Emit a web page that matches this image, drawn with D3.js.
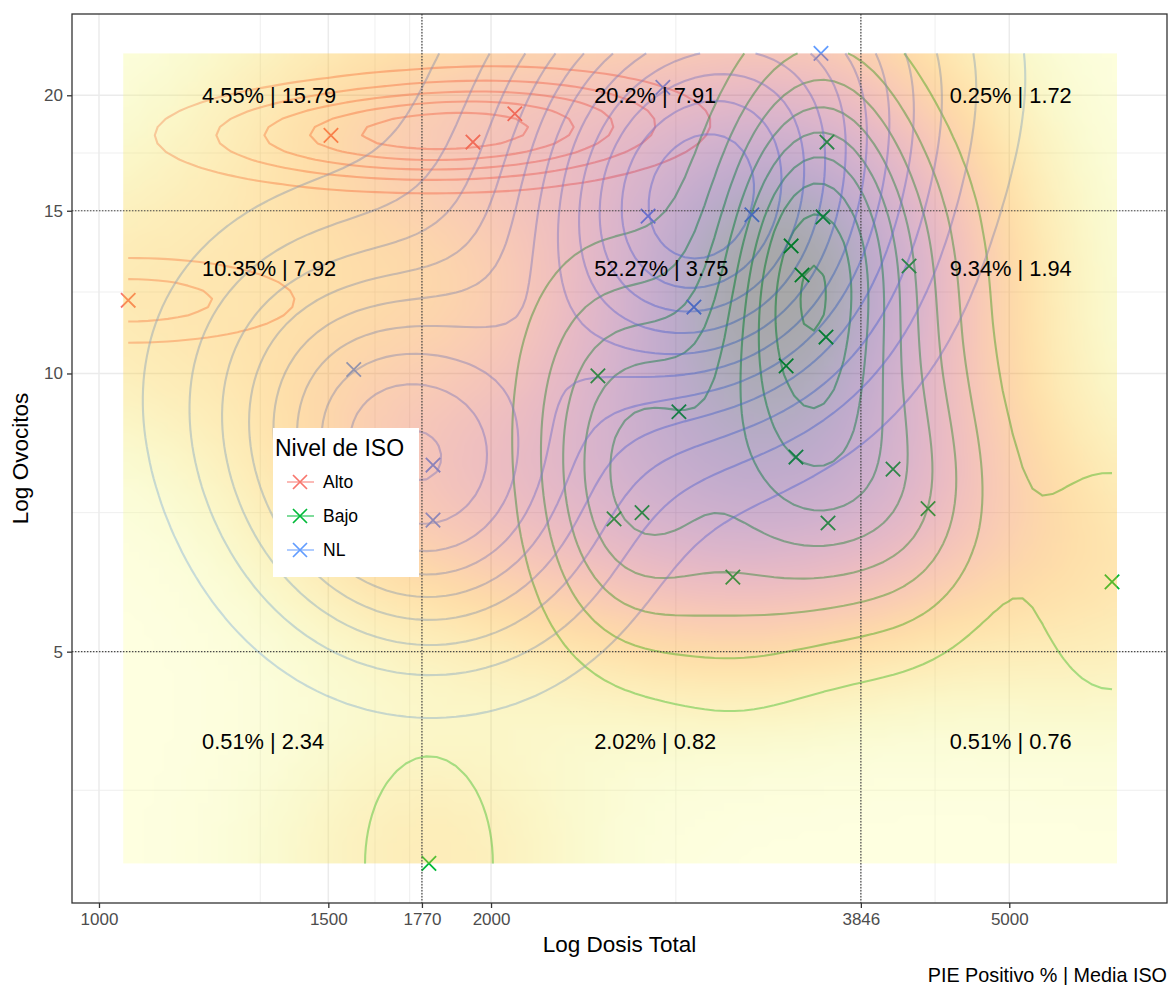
<!DOCTYPE html>
<html><head><meta charset="utf-8">
<script src="https://cdn.jsdelivr.net/npm/d3@7"></script>
<style>
body{margin:0;background:#fff;}
svg text{font-family:"Liberation Sans",Arial,Helvetica,sans-serif;}
</style></head><body>
<svg id="chart" width="1170" height="985"></svg>
<script>
// ---------------- data ----------------
const groups = ["Alto", "Bajo", "NL"];
const groupColors = ["#F8766D", "#00BA38", "#619CFF"];

const altoDosis = [1053, 1507, 1937, 2086];
const altoOvocitos = [12.0, 18.1, 17.8, 19.1];

const bajoDosis = [1792, 2416, 2788, 2486, 2612, 3067, 3370, 3400, 3466, 3597, 3622, 3616, 3429, 3629, 4071, 4188, 4331, 5996];
const bajoOvocitos = [2.95, 9.94, 9.09, 6.96, 7.07, 6.02, 10.19, 13.74, 12.78, 14.77, 17.80, 10.95, 8.12, 6.89, 7.88, 13.07, 7.14, 5.95];

const nlDosis = [3584, 2710, 2640, 3172, 2863, 1569, 1805, 1805];
const nlOvocitos = [22.2, 20.4, 14.8, 14.85, 11.8, 10.1, 7.96, 6.94];

const xBreaks = [1000, 1500, 1770, 2000, 3846, 5000];
const xMinorBreaks = [1330, 1629, 1732, 2773, 4385];
const yBreaks = [5, 10, 15, 20];
const yMinorBreaks = [3.54, 7.07, 12.25, 17.32];
const xLimits = [953.4, 6608];
const yLimits = [2.673, 24.49];

const vLines = [1770, 3846];
const hLines = [5, 15];

const quadX = [1200, 2400, 4500, 1200, 2400, 4500, 1200, 2400, 4500];
const quadY = [20, 20, 20, 13, 13, 13, 4, 4, 4];
const quadPie = [4.55, 20.2, 0.25, 10.35, 52.27, 9.34, 0.51, 2.02, 0.51];
const quadIso = [15.79, 7.91, 1.72, 7.92, 3.75, 1.94, 2.34, 0.82, 0.76];

const groupDosis = [altoDosis, bajoDosis, nlDosis];
const groupOvocitos = [altoOvocitos, bajoOvocitos, nlOvocitos];

// ---------------- layout ----------------
const P = {l: 72, t: 14, r: 1167, b: 903};
const svg = d3.select("#chart");
const x = d3.scaleLog().domain(xLimits).range([P.l, P.r]);
const y = d3.scaleLog().domain(yLimits).range([P.b, P.t]);

svg.append("defs").append("clipPath").attr("id", "clip")
  .append("rect").attr("x", P.l).attr("y", P.t).attr("width", P.r - P.l).attr("height", P.b - P.t);
const panel = svg.append("g").attr("clip-path", "url(#clip)");

// grid
panel.append("g").selectAll("line").data(xMinorBreaks).join("line")
  .attr("x1", d => x(d)).attr("x2", d => x(d)).attr("y1", P.t).attr("y2", P.b)
  .attr("stroke", "#EBEBEB").attr("stroke-width", 0.8);
panel.append("g").selectAll("line").data(yMinorBreaks).join("line")
  .attr("y1", d => y(d)).attr("y2", d => y(d)).attr("x1", P.l).attr("x2", P.r)
  .attr("stroke", "#EBEBEB").attr("stroke-width", 0.8);
panel.append("g").selectAll("line").data(xBreaks).join("line")
  .attr("x1", d => x(d)).attr("x2", d => x(d)).attr("y1", P.t).attr("y2", P.b)
  .attr("stroke", "#EBEBEB").attr("stroke-width", 1.5);
panel.append("g").selectAll("line").data(yBreaks).join("line")
  .attr("y1", d => y(d)).attr("y2", d => y(d)).attr("x1", P.l).attr("x2", P.r)
  .attr("stroke", "#EBEBEB").attr("stroke-width", 1.5);

// ---------------- density helpers ----------------
const L = Math.log10;
function bwNrd(v) {
  const s = v.slice().sort(d3.ascending);
  const iqr = (d3.quantileSorted(s, 0.75) - d3.quantileSorted(s, 0.25)) / 1.34;
  return 4 * 1.06 * Math.min(d3.deviation(v), iqr) * Math.pow(v.length, -0.2);
}
const dn = t => Math.exp(-0.5 * t * t) / Math.sqrt(2 * Math.PI);
function kde2d(xs, ys, gx, gy) {
  const hx = bwNrd(xs) / 4, hy = bwNrd(ys) / 4, n = xs.length;
  const ax = gx.map(g => xs.map(v => dn((g - v) / hx)));
  const ay = gy.map(g => ys.map(v => dn((g - v) / hy)));
  const z = new Float64Array(gx.length * gy.length);
  for (let j = 0; j < gy.length; j++)
    for (let i = 0; i < gx.length; i++) {
      let s = 0;
      for (let k = 0; k < n; k++) s += ax[i][k] * ay[j][k];
      z[j * gx.length + i] = s / (n * hx * hy);
    }
  return z;
}
function rPretty(lo, up, ndiv) {
  const h = 1.5, h5 = 0.5 + 1.5 * h;
  const cell = (up - lo) / ndiv;
  const base = Math.pow(10, Math.floor(Math.log10(cell)));
  let unit = base, ns;
  if ((ns = 2 * base) - cell < h * (cell - unit)) { unit = ns;
    if ((ns = 5 * base) - cell < h5 * (cell - unit)) { unit = ns;
      if ((ns = 10 * base) - cell < h * (cell - unit)) unit = ns; } }
  let a = Math.floor(lo / unit + 1e-7), b = Math.ceil(up / unit - 1e-7);
  while (a * unit > lo + 1e-10 * unit) a--;
  while (b * unit < up - 1e-10 * unit) b++;
  return d3.range(a, b + 1).map(k => k * unit);
}

const allLX = groupDosis.flat().map(L), allLY = groupOvocitos.flat().map(L);
const N = 100;
const [gxlo, gxhi] = d3.extent(allLX), [gylo, gyhi] = d3.extent(allLY);
const sx = (gxhi - gxlo) / (N - 1), sy = (gyhi - gylo) / (N - 1);
const gx = d3.range(N).map(i => gxlo + i * sx);
const gy = d3.range(N).map(j => gylo + j * sy);
const px = c => x(Math.pow(10, gxlo + (c - 0.5) * sx));
const py = c => y(Math.pow(10, gylo + (c - 0.5) * sy));

// ---------------- contour lines (per group) ----------------
const lineGen = d3.line().x(p => px(p[0])).y(p => py(p[1]));
const onB = p => p[0] <= 0 || p[0] >= N || p[1] <= 0 || p[1] >= N;
function openLines(ring) {
  const pts = ring.slice(0, -1);
  const k = pts.findIndex(onB);
  if (k < 0) return [{pts: ring, closed: true}];
  const rot = pts.slice(k).concat(pts.slice(0, k));
  const out = []; let cur = [];
  rot.forEach(p => {
    if (onB(p)) { if (cur.length > 1) out.push({pts: cur, closed: false}); cur = []; }
    else cur.push(p);
  });
  if (cur.length > 1) out.push({pts: cur, closed: false});
  return out;
}
const contourLayer = panel.append("g");
groups.forEach((g, gi) => {
  const z = kde2d(groupDosis[gi].map(L), groupOvocitos[gi].map(L), gx, gy);
  const [zmin, zmax] = d3.extent(z);
  const levels = rPretty(zmin, zmax, 10).filter(v => v > zmin && v < zmax);
  const polys = d3.contours().size([N, N]).thresholds(levels)(Array.from(z));
  const segs = [];
  polys.forEach(mp => mp.coordinates.forEach(poly => poly.forEach(ring => segs.push(...openLines(ring)))));
  contourLayer.append("g").selectAll("path").data(segs).join("path")
    .attr("d", s => lineGen(s.pts) + (s.closed ? "Z" : ""))
    .attr("fill", "none").attr("stroke", groupColors[gi])
    .attr("stroke-opacity", 0.5).attr("stroke-width", 2.1).attr("stroke-linejoin", "round");
});

// ---------------- points ----------------
const xShape = s => `M${-s},${-s}L${s},${s}M${-s},${s}L${s},${-s}`;
const pts = groups.flatMap((g, gi) => groupDosis[gi].map((d, k) => ({g: gi, d, o: groupOvocitos[gi][k]})));
panel.append("g").selectAll("path").data(pts).join("path")
  .attr("transform", p => `translate(${x(p.d)},${y(p.o)})`)
  .attr("d", xShape(7.2)).attr("fill", "none")
  .attr("stroke", p => groupColors[p.g]).attr("stroke-width", 1.8);

// ---------------- raster (all points) ----------------
const zAll = kde2d(allLX, allLY, gx, gy);
const [zaMin, zaMax] = d3.extent(zAll);
const fill = d3.scaleSequential(t => d3.interpolateInferno(1 - t)).domain([zaMin, zaMax]);
const cnv = document.createElement("canvas");
cnv.width = N; cnv.height = N;
const ctx = cnv.getContext("2d");
const im = ctx.createImageData(N, N);
for (let row = 0; row < N; row++) {
  const j = N - 1 - row;
  for (let i = 0; i < N; i++) {
    const c = d3.rgb(fill(zAll[j * N + i]));
    const o = (row * N + i) * 4;
    im.data[o] = c.r; im.data[o + 1] = c.g; im.data[o + 2] = c.b; im.data[o + 3] = 255;
  }
}
ctx.putImageData(im, 0, 0);
const rx0 = x(Math.pow(10, gxlo - sx / 2)), rx1 = x(Math.pow(10, gxhi + sx / 2));
const ry0 = y(Math.pow(10, gyhi)), ry1 = y(Math.pow(10, gylo));
panel.append("image").attr("href", cnv.toDataURL())
  .attr("x", rx0).attr("y", ry0).attr("width", rx1 - rx0).attr("height", ry1 - ry0)
  .attr("preserveAspectRatio", "none").attr("opacity", 0.34);

// ---------------- reference lines ----------------
panel.append("g").selectAll("line").data(vLines).join("line")
  .attr("x1", d => x(d)).attr("x2", d => x(d)).attr("y1", P.t).attr("y2", P.b)
  .attr("stroke", "#4a4a4a").attr("stroke-width", 1.2).attr("stroke-dasharray", "1.4,1.6");
panel.append("g").selectAll("line").data(hLines).join("line")
  .attr("y1", d => y(d)).attr("y2", d => y(d)).attr("x1", P.l).attr("x2", P.r)
  .attr("stroke", "#4a4a4a").attr("stroke-width", 1.2).attr("stroke-dasharray", "1.4,1.6");

// ---------------- quadrant labels ----------------
panel.append("g").selectAll("text").data(quadPie).join("text")
  .attr("x", (d, i) => x(quadX[i])).attr("y", (d, i) => y(quadY[i]))
  .attr("dy", "0.36em").attr("font-size", 21.8).attr("fill", "#000")
  .text((d, i) => `${d}% | ${quadIso[i]}`);

// ---------------- border & axes ----------------
svg.append("rect").attr("x", P.l).attr("y", P.t).attr("width", P.r - P.l).attr("height", P.b - P.t)
  .attr("fill", "none").attr("stroke", "#333333").attr("stroke-width", 1.3);

const xAxis = svg.append("g").attr("transform", `translate(0,${P.b})`)
  .call(d3.axisBottom(x).tickValues(xBreaks).tickFormat(d3.format("d")).tickSize(5).tickPadding(5));
const yAxis = svg.append("g").attr("transform", `translate(${P.l},0)`)
  .call(d3.axisLeft(y).tickValues(yBreaks).tickFormat(d3.format("d")).tickSize(5).tickPadding(4));
[xAxis, yAxis].forEach(a => {
  a.select(".domain").remove();
  a.selectAll(".tick line").attr("stroke", "#333333").attr("stroke-width", 1.3);
  a.selectAll(".tick text").attr("fill", "#4D4D4D").attr("font-size", 17)
    .attr("font-family", "Liberation Sans, Arial, sans-serif");
});

svg.append("text").attr("x", (P.l + P.r) / 2).attr("y", 952).attr("text-anchor", "middle")
  .attr("font-size", 22.5).attr("fill", "#000").text("Log Dosis Total");
svg.append("text").attr("transform", `translate(28,${(P.t + P.b) / 2}) rotate(-90)`)
  .attr("text-anchor", "middle").attr("font-size", 22.5).attr("fill", "#000").text("Log Ovocitos");
svg.append("text").attr("x", P.r).attr("y", 982).attr("text-anchor", "end")
  .attr("font-size", 19.8).attr("fill", "#000").text("PIE Positivo % | Media ISO");

// ---------------- legend ----------------
const lg = svg.append("g");
lg.append("rect").attr("x", 273).attr("y", 428).attr("width", 146).attr("height", 149).attr("fill", "#fff");
lg.append("text").attr("x", 275).attr("y", 456).attr("font-size", 23).attr("fill", "#000").text("Nivel de ISO");
const keys = lg.selectAll("g.key").data(groups).join("g")
  .attr("transform", (d, i) => `translate(300,${482 + i * 34})`);
keys.append("line").attr("x1", -13).attr("x2", 14).attr("stroke", (d, i) => groupColors[i])
  .attr("stroke-opacity", 0.5).attr("stroke-width", 2);
keys.append("path").attr("d", xShape(7)).attr("fill", "none")
  .attr("stroke", (d, i) => groupColors[i]).attr("stroke-width", 1.7);
keys.append("text").attr("x", 23).attr("y", 6).attr("font-size", 17.5).attr("fill", "#000").text(d => d);
</script>
</body></html>
